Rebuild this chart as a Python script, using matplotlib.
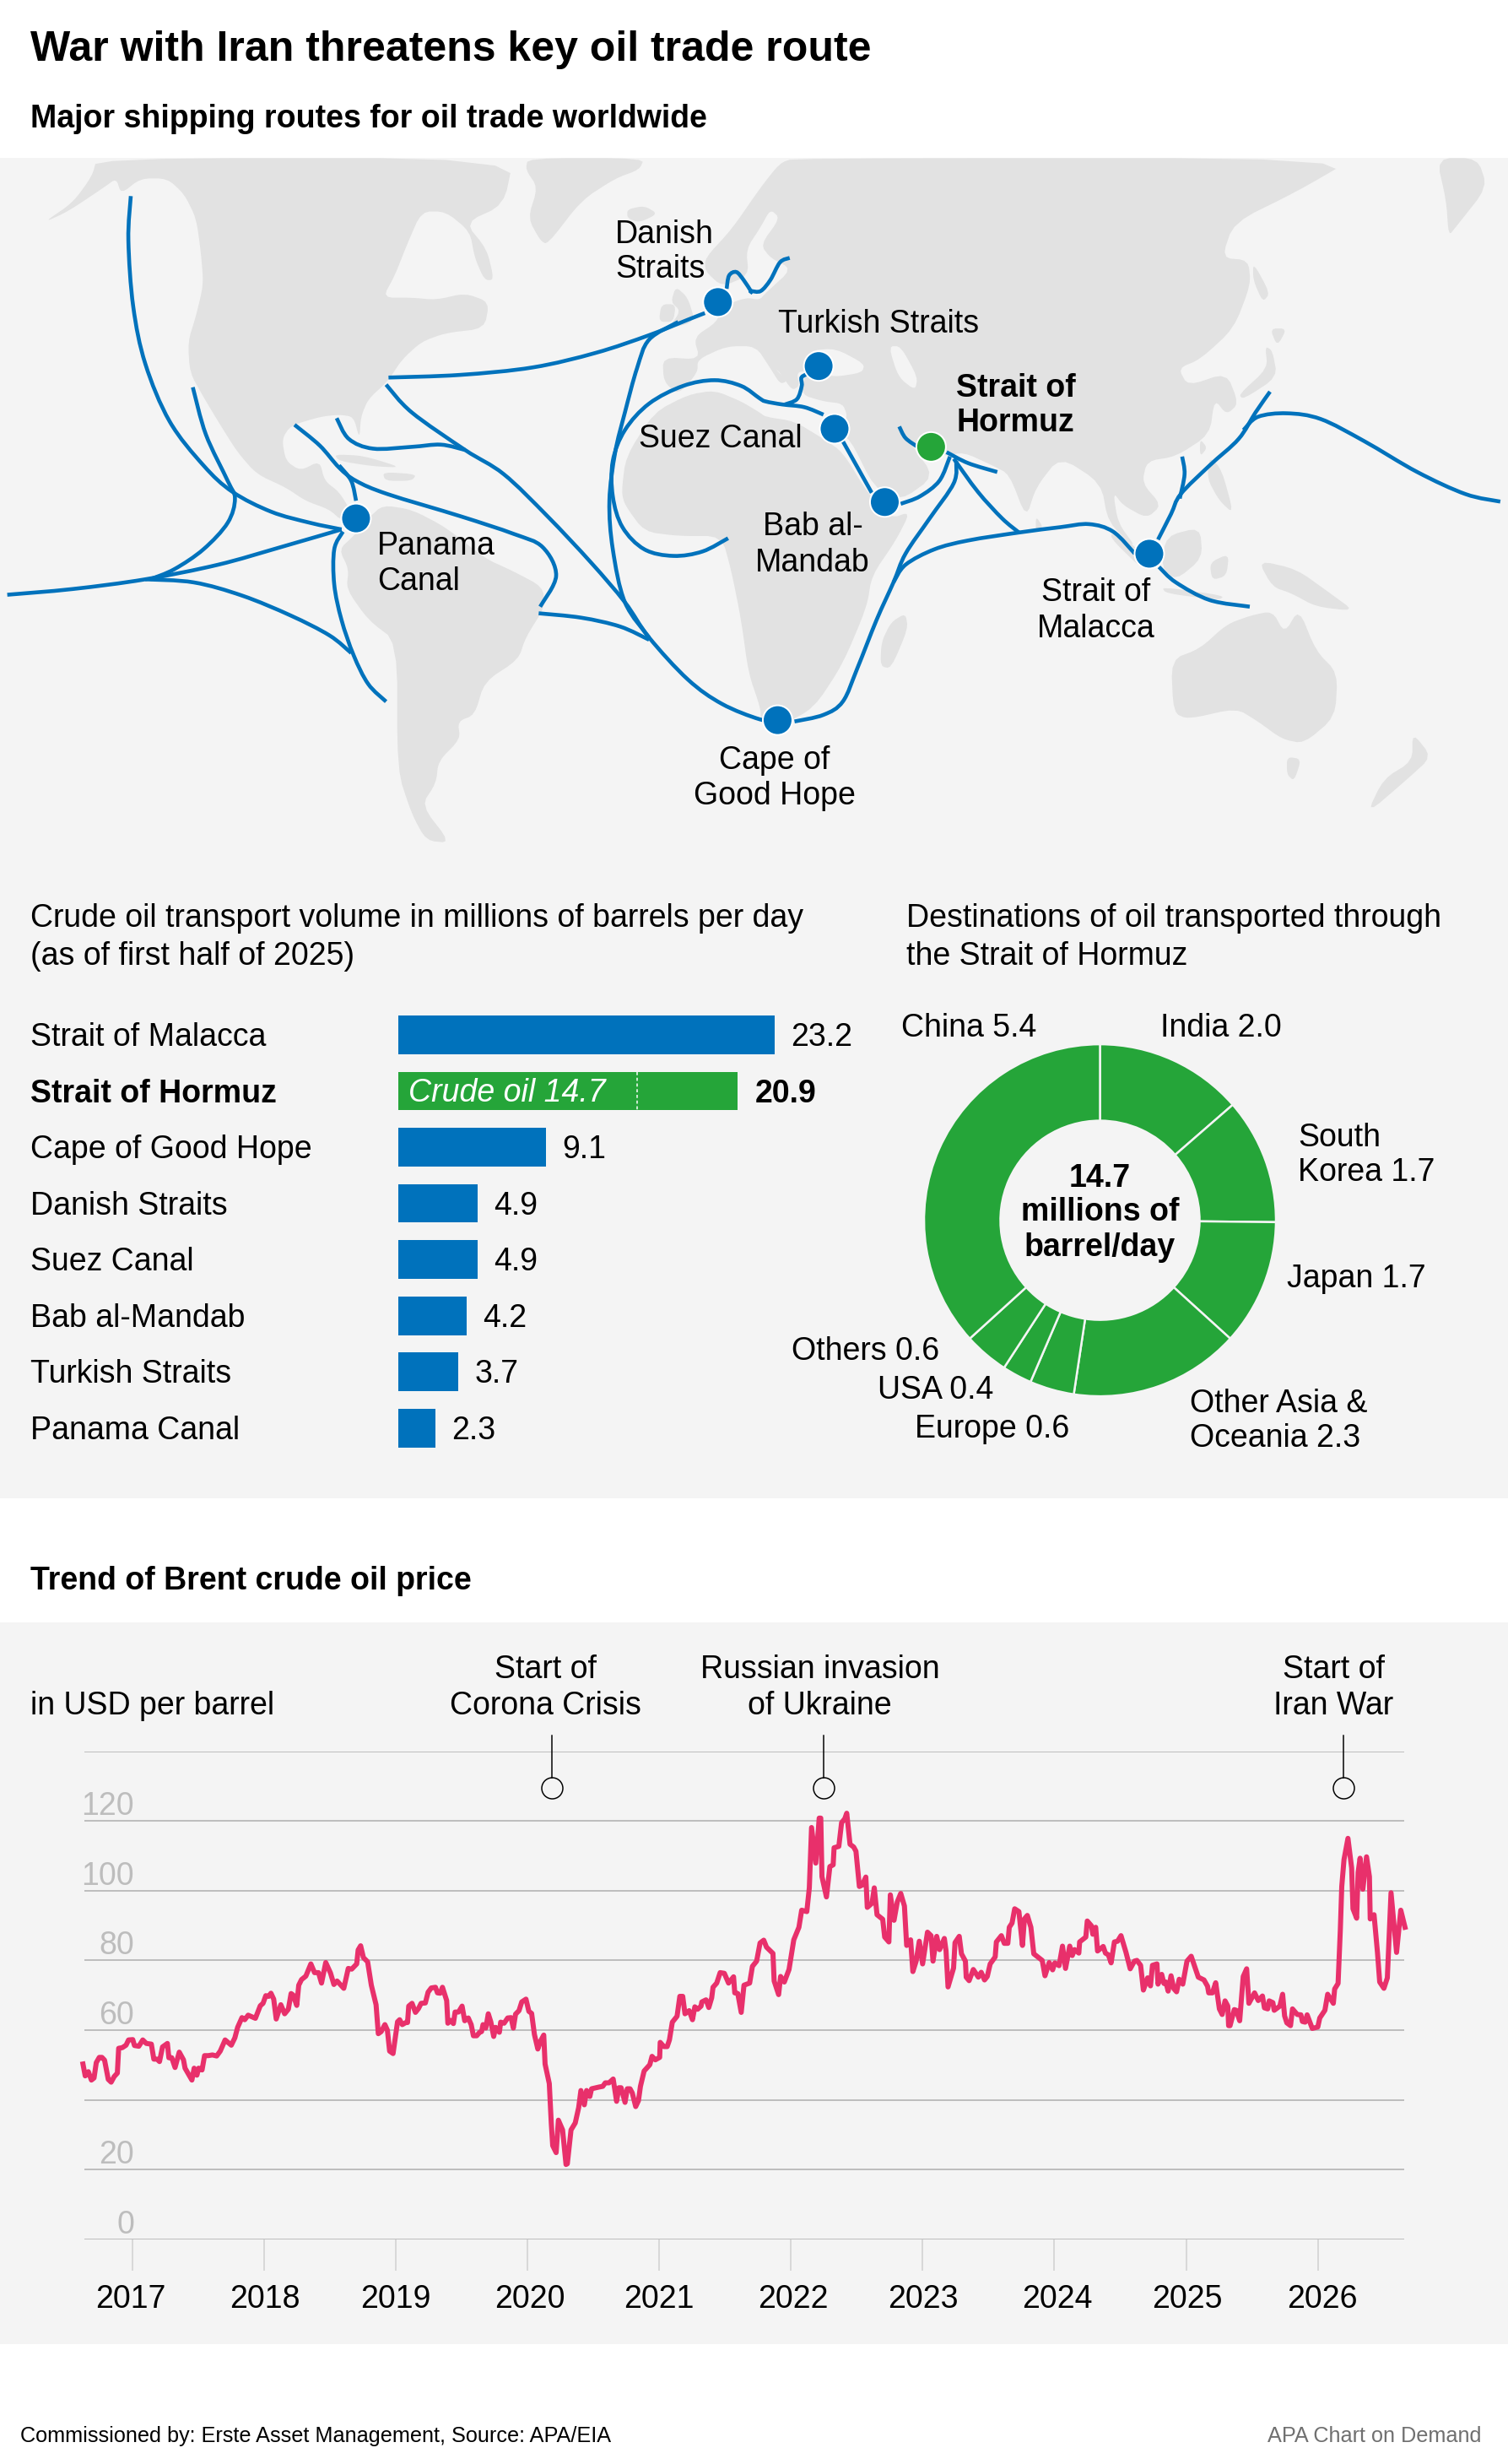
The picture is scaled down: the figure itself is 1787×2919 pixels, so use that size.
import numpy as np
import matplotlib
matplotlib.use('Agg')
import matplotlib.pyplot as plt
from matplotlib.path import Path
from matplotlib.patches import PathPatch, Circle, Rectangle, Polygon
from matplotlib.transforms import ScaledTranslation

plt.rcParams['font.family'] = ['Liberation Sans', 'DejaVu Sans']

# ---------- data ----------
title = 'War with Iran threatens key oil trade route'
subtitle = 'Major shipping routes for oil trade worldwide'
bar_labels = ['Strait of Malacca', 'Strait of Hormuz', 'Cape of Good Hope', 'Danish Straits',
              'Suez Canal', 'Bab al-Mandab', 'Turkish Straits', 'Panama Canal']
bar_values = [23.2, 20.9, 9.1, 4.9, 4.9, 4.2, 3.7, 2.3]
hormuz_crude = 14.7
donut_labels = ['India', 'South Korea', 'Japan', 'Other Asia & Oceania', 'Europe', 'USA', 'Others', 'China']
donut_values = [2.0, 1.7, 1.7, 2.3, 0.6, 0.4, 0.6, 5.4]
grid_values = [0, 20, 40, 60, 80, 100, 120, 140]
labelled_grid = [0, 20, 60, 80, 100, 120]
year_ticks = [2017, 2018, 2019, 2020, 2021, 2022, 2023, 2024, 2025, 2026]
event_years = [2020.188, 2022.251, 2026.197]

brent_years = [
 2016.626,2016.643,2016.667,2016.69,2016.71,2016.727,2016.75,2016.77,2016.79,2016.818,2016.84,2016.863,2016.887,2016.897,2016.925,2016.953,2016.972,
 2017.004,2017.017,2017.05,2017.08,2017.107,2017.145,2017.164,2017.188,2017.207,2017.23,2017.267,2017.278,2017.3,2017.325,2017.357,2017.389,2017.401,2017.453,2017.47,2017.491,2017.504,2017.53,2017.549,2017.577,2017.609,2017.641,2017.668,2017.705,2017.752,2017.779,2017.8,2017.833,2017.854,2017.88,2017.935,2017.972,2017.993,
 2018.014,2018.036,2018.053,2018.074,2018.093,2018.128,2018.157,2018.185,2018.206,2018.221,2018.249,2018.264,2018.285,2018.318,2018.356,2018.384,2018.414,2018.437,2018.469,2018.505,2018.531,2018.555,2018.606,2018.64,2018.666,2018.704,2018.715,2018.734,2018.755,2018.787,2018.815,2018.851,2018.868,2018.89,2018.918,2018.937,2018.954,2018.98,
 2019.014,2019.03,2019.05,2019.082,2019.09,2019.099,2019.124,2019.15,2019.173,2019.193,2019.225,2019.246,2019.27,2019.302,2019.317,2019.338,2019.355,2019.387,2019.396,2019.417,2019.438,2019.451,2019.477,2019.504,2019.524,2019.551,2019.573,2019.59,2019.615,2019.637,2019.652,2019.663,2019.684,2019.703,2019.722,2019.744,2019.759,2019.787,2019.797,2019.823,2019.85,2019.876,2019.893,2019.91,2019.936,2019.957,2019.989,
 2020.011,2020.032,2020.053,2020.079,2020.1,2020.124,2020.134,2020.166,2020.181,2020.192,2020.218,2020.235,2020.267,2020.293,2020.303,2020.331,2020.363,2020.389,2020.406,2020.432,2020.449,2020.474,2020.487,2020.544,2020.572,2020.591,2020.619,2020.651,2020.677,2020.694,2020.711,2020.741,2020.758,2020.779,2020.796,2020.822,2020.843,2020.858,2020.886,2020.929,2020.946,2020.971,
 2021.004,2021.008,2021.036,2021.061,2021.078,2021.1,2021.136,2021.157,2021.179,2021.196,2021.228,2021.253,2021.271,2021.292,2021.318,2021.324,2021.356,2021.377,2021.399,2021.409,2021.437,2021.463,2021.495,2021.527,2021.565,2021.574,2021.597,2021.623,2021.644,2021.687,2021.708,2021.74,2021.766,2021.794,2021.815,2021.864,2021.873,2021.907,2021.922,2021.95,2021.986,
 2022.022,2022.061,2022.082,2022.121,2022.14,2022.157,2022.189,2022.215,2022.227,2022.236,2022.27,2022.296,2022.321,2022.328,2022.364,2022.385,2022.409,2022.424,2022.449,2022.477,2022.494,2022.52,2022.541,2022.569,2022.58,2022.616,2022.633,2022.654,2022.697,2022.712,2022.744,2022.755,2022.783,2022.808,2022.834,2022.862,2022.879,2022.909,2022.926,2022.951,2022.975,
 2023.0,2023.037,2023.064,2023.079,2023.107,2023.129,2023.165,2023.178,2023.193,2023.235,2023.246,2023.278,2023.295,2023.325,2023.331,2023.353,2023.385,2023.423,2023.445,2023.47,2023.491,2023.513,2023.551,2023.56,2023.598,2023.62,2023.647,2023.658,2023.679,2023.699,2023.731,2023.758,2023.773,2023.795,2023.822,2023.844,2023.908,2023.929,2023.961,2023.987,
 2024.004,2024.036,2024.062,2024.085,2024.117,2024.136,2024.154,2024.186,2024.192,2024.239,2024.25,2024.282,2024.292,2024.314,2024.328,2024.371,2024.388,2024.41,2024.431,2024.456,2024.48,2024.506,2024.544,2024.576,2024.608,2024.627,2024.655,2024.676,2024.708,2024.73,2024.745,2024.779,2024.787,2024.815,2024.832,2024.847,2024.864,2024.886,2024.907,2024.928,2024.948,2024.975,
 2025.007,2025.039,2025.093,2025.136,2025.163,2025.172,2025.2,2025.225,2025.253,2025.274,2025.296,2025.317,2025.323,2025.334,2025.366,2025.381,2025.407,2025.434,2025.46,2025.477,2025.52,2025.548,2025.58,2025.595,2025.62,2025.631,2025.659,2025.669,2025.712,2025.733,2025.748,2025.765,2025.793,2025.808,2025.844,2025.872,2025.883,2025.904,2025.919,2025.958,
 2026.0,2026.015,2026.054,2026.075,2026.118,2026.128,2026.154,2026.171,2026.182,2026.199,2026.229,2026.257,2026.267,2026.295,2026.306,2026.321,2026.342,2026.37,2026.392,2026.398,2026.427,2026.453,2026.47,2026.502,2026.528,2026.556,2026.598,2026.63,2026.662]
brent_values = [
 50.3,46.9,48.1,45.7,46.3,50.7,52.2,52.2,51.4,45.9,45.1,46.7,47.7,54.8,55.0,55.7,57.2,
 57.3,55.6,55.4,57.2,56.2,56.0,51.7,51.7,51.0,55.2,56.2,52.1,52.1,49.3,53.7,51.5,49.1,45.7,49.1,47.1,49.1,48.6,52.7,52.7,52.9,52.6,54.0,57.2,55.7,57.8,60.8,63.6,63.0,64.3,63.4,67.0,67.7,
 69.9,69.7,70.6,68.9,63.2,67.3,64.7,66.0,70.5,70.1,67.1,72.9,74.5,75.5,79.0,76.5,76.5,73.5,79.4,76.4,73.1,74.1,72.0,77.7,77.5,79.0,83.0,84.2,80.8,79.6,72.9,67.3,59.0,59.6,61.6,60.0,54.0,53.3,
 62.4,63.0,61.6,62.3,62.2,66.9,67.7,65.1,66.2,67.7,67.8,70.9,72.1,72.3,70.7,70.6,72.3,68.5,62.0,62.8,61.9,65.2,65.2,66.9,62.7,63.5,61.6,58.4,58.4,59.4,59.6,61.6,60.6,64.7,62.4,58.2,60.8,59.4,62.3,62.0,63.5,63.6,60.6,64.6,65.6,68.1,68.9,
 65.4,64.8,58.8,54.6,56.9,58.6,50.3,44.7,33.4,26.9,24.9,34.2,31.4,21.5,21.7,31.4,33.4,37.8,42.7,38.6,42.7,41.0,43.2,43.7,43.9,44.9,44.9,46.0,39.6,43.5,43.5,39.3,43.2,43.2,42.0,38.1,39.8,43.9,48.3,50.1,52.5,51.5,
 52.2,56.5,55.3,55.3,57.2,62.3,64.0,69.7,69.7,64.7,65.6,63.0,66.7,66.0,66.9,68.1,68.7,66.5,69.3,72.3,73.5,76.5,76.3,73.5,75.3,70.7,70.5,65.1,72.9,73.5,78.3,79.8,85.0,85.8,83.8,82.0,74.1,70.2,75.4,73.8,77.4,
 85.9,89.5,94.4,94.0,100.8,118.1,107.9,120.8,120.8,104.0,98.2,106.9,107.4,112.3,112.7,119.5,120.6,122.2,113.3,112.5,111.3,101.2,101.6,103.9,95.2,96.4,100.8,93.1,91.8,86.7,85.3,98.8,91.5,96.8,99.2,95.6,84.3,85.9,76.8,79.8,85.5,
 79.0,88.1,87.1,79.8,86.9,83.1,86.3,82.7,72.4,77.8,85.1,86.9,81.9,79.8,75.2,74.2,77.4,75.2,76.6,74.4,75.4,79.0,81.0,85.3,87.1,84.9,84.9,89.5,90.7,94.8,94.0,84.3,91.9,92.9,89.5,81.9,80.0,75.6,79.4,77.3,
 79.3,78.5,84.1,77.7,84.1,81.4,83.1,82.1,85.3,86.7,91.3,89.9,87.5,89.5,82.7,84.0,82.1,81.6,79.3,85.3,85.5,87.1,82.3,77.6,79.8,80.0,78.6,71.5,75.0,72.7,78.6,79.0,73.2,76.0,73.4,73.8,71.2,75.6,71.9,71.0,74.6,73.2,
 79.8,81.2,75.2,74.4,72.6,70.7,70.7,73.6,66.1,64.5,68.4,66.9,61.3,61.3,65.9,65.7,62.7,75.4,77.6,67.7,70.7,68.5,69.8,66.4,66.1,68.4,67.9,65.7,66.9,70.3,64.1,62.1,61.3,66.1,64.5,64.4,62.5,62.3,64.4,60.5,
 60.9,63.5,65.7,70.3,67.7,71.8,73.4,88.7,101.2,108.9,115.0,106.5,94.8,92.1,105.2,109.3,100.4,109.7,104.0,91.9,93.1,82.3,73.8,72.0,75.0,99.4,82.3,94.4,89.5]

# ---------- layout helpers ----------
W, H = 1787, 2919
BG = '#F4F4F4'; LAND = '#E2E2E2'; BLUE = '#0072BC'; GREEN = '#25A539'; RED = '#E8306B'
GREY = '#BDBDBD'
PT = 0.72
FS = 37.5 * PT

fig = plt.figure(figsize=(W / 100, H / 100), dpi=100, facecolor='white')
main = fig.add_axes([0, 0, 1, 1])
main.set_xlim(0, W); main.set_ylim(H, 0); main.axis('off')

def px_axes(x0, y0, x1, y1, **kw):
    return fig.add_axes([x0 / W, 1 - y1 / H, (x1 - x0) / W, (y1 - y0) / H], **kw)

def txt(x, y, s, size=FS, weight='normal', ha='left', color='black', style='normal'):
    main.text(x, y, s, fontsize=size, fontweight=weight, ha=ha, va='baseline', color=color, fontstyle=style, zorder=20)

main.add_patch(Rectangle((0, 187), W, 1775 - 187, fc=BG, ec='none', zorder=0))
main.add_patch(Rectangle((0, 1922), W, 2777 - 1922, fc=BG, ec='none', zorder=0))

txt(36, 72, title, size=50 * PT, weight='bold')
txt(36, 151, subtitle, size=37.5 * PT, weight='bold')

# ---------- map geometry ----------
def Z1(p):
    return [(x / 1.742, 180 + y / 1.912) for x, y in p]
def Z2(p):
    return [(890 + x / 1.748, 180 + y / 1.912) for x, y in p]

def chaikin(poly, n=2):
    p = np.array(poly, float)
    for _ in range(n):
        q = np.roll(p, -1, axis=0)
        p = np.column_stack([0.8 * p + 0.2 * q, 0.2 * p + 0.8 * q]).reshape(-1, 2)
    return p

land = [
 # North America
 Z1([(200,14),(190,55),(150,115),(90,160),(140,135),(215,80),(240,60),(250,95),(290,60),(345,60),(380,95),(405,150),(415,230),(420,300),(405,370),(388,430),(392,500),(420,555),(450,610),(490,680),(530,730),(590,760),(630,790),(680,810),(705,835),(725,815),(700,770),(670,745),(660,700),(620,722),(590,700),(582,650),(600,620),(660,600),(700,595),(730,600),(742,650),(745,600),(760,560),(800,520),(830,470),(870,430),(920,410),(1000,400),(1010,340),(960,320),(900,335),(850,330),(790,330),(815,280),(840,210),(870,135),(920,135),(970,180),(980,240),(1000,290),(1020,290),(1005,220),(960,160),(1040,120),(1060,14)]),
 # Greenland
 Z1([(1090,14),(1330,14),(1320,40),(1270,60),(1200,110),(1130,210),(1115,200),(1090,150),(1110,80),(1085,40)]),
 # Iceland, UK, Ireland, Cuba, Hispaniola
 Z1([(1295,130),(1330,122),(1358,140),(1320,160),(1295,150)]),
 Z1([(1395,305),(1420,330),(1435,385),(1380,400),(1405,360),(1385,340)]),
 Z1([(1365,345),(1395,345),(1390,385),(1360,385)]),
 Z1([(690,685),(750,688),(830,715),(770,712),(700,700)]),
 Z1([(790,725),(860,730),(850,745),(795,745)]),
 # South America
 Z1([(790,800),(850,810),(920,850),(1000,920),(1060,950),(1120,985),(1125,1030),(1085,1100),(1070,1150),(1000,1200),(980,1275),(945,1290),(950,1330),(905,1380),(900,1430),(870,1480),(930,1565),(880,1560),(850,1500),(820,1400),(820,1110),(760,1060),(715,990),(720,945),(700,900),(730,870),(760,830)]),
 # Africa
 Z1([(1283,770),(1292,690),(1350,590),(1420,550),(1475,540),(1530,565),(1568,590)])
 + Z2([(30,600),(90,610),(150,650),(190,680),(240,770),(290,830),(330,815),(300,880),(250,960),(240,1030),(190,1160),(130,1260),(60,1300),(20,1290)])
 + Z1([(1570,1260),(1545,1180),(1530,1060),(1510,950),(1490,870),(1400,870),(1330,860),(1290,800)]),
 Z2([(320,1045),(325,1080),(290,1170),(268,1165),(270,1110),(290,1065)]),
 # Eurasia
 Z1([(1370,520),(1368,465),(1445,470),(1432,420),(1480,385),(1490,350),(1540,330),(1568,335)])
 + Z2([(30,320),(85,265),(40,240),(20,210),(60,150),(40,130),(20,170),(-10,220),(-5,280),(-60,305),(-95,270),(-95,240),(-40,175),(20,80),(60,25),(90,14),(1250,14),(1130,90),(1000,160),(975,240),(1030,245),(1035,300),(1000,400),(930,470),(885,490),(905,530),(985,500),(1010,570),(985,595),(960,560),(950,640),(880,690),(820,700),(810,750),(850,800),(820,830),(770,800),(750,770),(760,840),(800,900),(740,840),(725,750),(640,690),(590,760),(570,830),(535,730),(500,710),(440,680),(400,690),(345,660),(330,660),(380,735),(310,790),(255,760),(205,650),(180,640),(185,625),(200,600),(190,570),(150,565),(105,550),(110,510),(115,495),(95,500),(100,530),(85,540),(60,500),(50,490),(75,520),(60,525),(40,490),(10,440)])
 + Z1([(1500,440),(1440,470),(1440,500),(1400,550)]),
 # Chukotka
 Z2([(1420,14),(1505,14),(1525,80),(1460,170),(1445,190),(1440,110)]),
 # Asia Pacific islands
 Z2([(1040,250),(1075,320),(1060,340),(1040,290)]),
 Z2([(1080,450),(1090,510),(1020,560),(1010,550),(1070,490),(1065,440)]),
 Z2([(1075,400),(1110,400),(1090,440)]),
 Z2([(930,650),(945,670),(930,690)]),
 Z2([(950,690),(975,720),(1000,820),(970,790),(945,740)]),
 Z2([(590,825),(605,850),(590,860)]),
 Z2([(760,860),(830,930),(815,950),(740,870)]),
 Z2([(860,870),(930,850),(935,920),(880,970),(850,940)]),
 Z2([(950,930),(990,910),(985,960),(955,970)]),
 Z2([(850,985),(980,1005),(970,1015),(860,1000)]),
 Z2([(1050,925),(1130,945),(1200,1000),(1250,1040),(1170,1030),(1120,1000),(1080,985)]),
 # Australia, Tasmania, New Zealand
 Z2([(870,1150),(930,1125),(985,1070),(1035,1050),(1080,1040),(1105,1090),(1135,1035),(1170,1130),(1215,1180),(1210,1280),(1145,1340),(1100,1330),(1050,1290),(1005,1260),(905,1285),(875,1270)]),
 Z2([(1110,1370),(1140,1375),(1125,1425),(1110,1410)]),
 Z2([(1370,1315),(1410,1370),(1360,1420),(1275,1500),(1310,1420),(1370,1380)]),
]
seas = [
 Z1([(875,130),(855,200),(825,265),(800,320),(840,290),(900,270),(960,280),(990,300),(970,200),(940,150)]),
 Z2([(120,450),(175,445),(235,480),(230,500),(170,510),(120,495)]),
 Z2([(285,440),(310,440),(345,510),(340,540),(305,510)]),
]
routes = [
 Z1([(270,100),(265,200),(275,350),(300,480),(350,610),(420,710),(480,770),(560,815),(640,840),(705,855)]),
 Z1([(398,533),(425,640),(470,745),(485,785),(470,840),(420,900),(360,945),(310,968)]),
 Z1([(15,1003),(150,990),(300,968),(450,935),(580,895),(705,855)]),
 Z1([(300,968),(400,975),(500,1005),(600,1050),(680,1095),(725,1135)]),
 Z1([(708,860),(690,900),(690,980),(705,1060),(730,1140),(760,1205),(797,1245)]),
 Z1([(608,618),(660,665),(700,715),(735,745),(800,775),(950,825),(1060,865),(1120,895),(1148,960),(1115,1030)]),
 Z1([(700,710),(725,745),(735,790)]),
 Z1([(695,603),(720,650),(770,672),(850,668),(910,663),(960,675)]),
 Z1([(797,527),(850,590),(960,675),(1040,730),(1130,825),(1220,930),(1290,1020),(1340,1100),(1420,1195),(1490,1250),(1568,1285),(1610,1290)]),
 Z1([(802,511),(950,505),(1100,488),(1230,455),(1340,415),(1420,380),(1455,365)]),
 Z1([(1400,385),(1340,425),(1315,490),(1290,590),(1270,680),(1258,790),(1265,900),(1290,1020),(1340,1100)]),
 Z1([(1503,875),(1450,905),(1390,915),(1330,900),(1285,850),(1265,780),(1265,700),(1290,630),(1340,570),(1410,530),(1475,517),(1530,530),(1568,558)])
 + Z2([(30,565),(65,572),(110,578),(150,595)]),
 Z1([(1112,1045),(1200,1055),(1280,1075),(1340,1105)]),
 Z1([(1500,310),(1505,280),(1520,272),(1535,290),(1550,315)]) + Z2([(0,315),(20,315),(40,290),(60,250),(80,240)]),
 Z2([(70,572),(95,560),(105,530),(105,510),(125,500)]),
 Z2([(190,655),(250,772)]),
 Z2([(310,797),(350,780),(390,745),(412,690)]),
 Z2([(307,622),(320,648),(345,668)]),
 Z2([(405,680),(450,705),(510,725)]),
 Z2([(90,1290),(150,1275),(190,1245),(220,1170),(260,1060),(295,975),(320,910),(370,830),(420,750),(425,700)]),
 Z2([(295,975),(320,935),(380,900),(450,880),(555,862),(640,850),(700,843),(750,860),(795,910)]),
 Z2([(555,862),(520,830),(470,770),(420,695)]),
 Z2([(845,940),(880,975),(950,1015),(1033,1030)]),
 Z2([(843,878),(870,820),(890,775),(950,710),(1010,650),(1045,590),(1075,543)]),
 Z2([(1020,630),(1050,600),(1110,592),(1180,605),(1270,655),(1380,725),(1480,775),(1552,792)]),
 Z2([(893,690),(898,730),(888,785)]),
]
dots = Z1([(1482,340),(735,830)]) + Z2([(140,485),(173,627),(277,793),(825,910),(55,1287)])
green_dot = Z2([(373,668)])[0]

def smooth(pts):
    p = np.array(pts, float)
    q = np.vstack([p[0], p, p[-1]])
    verts = [tuple(p[0])]; codes = [Path.MOVETO]
    for i in range(1, len(q) - 2):
        c1 = q[i] + (q[i + 1] - q[i - 1]) / 6
        c2 = q[i + 1] - (q[i + 2] - q[i]) / 6
        verts += [tuple(c1), tuple(c2), tuple(q[i + 1])]
        codes += [Path.CURVE4] * 3
    return Path(verts, codes)

clip = Rectangle((0, 187), W, 1000 - 187, transform=main.transData)
for poly in land:
    patch = Polygon(chaikin(poly), closed=True, fc=LAND, ec='none', zorder=1)
    main.add_patch(patch); patch.set_clip_path(clip)
for poly in seas:
    main.add_patch(Polygon(chaikin(poly), closed=True, fc=BG, ec='none', zorder=2))
for r in routes:
    main.add_patch(PathPatch(smooth(r), fc='none', ec=BLUE, lw=4.6 * PT, capstyle='butt', zorder=3))
for d in dots:
    main.add_patch(Circle(d, 17.5, fc=BLUE, ec='white', lw=2 * PT, zorder=4))
main.add_patch(Circle(green_dot, 17.5, fc=GREEN, ec='white', lw=2 * PT, zorder=4))

for x, y, s, ha, w in [
    (729, 288, 'Danish', 'left', 'normal'), (729, 329, 'Straits', 'left', 'normal'),
    (921.5, 394, 'Turkish Straits', 'left', 'normal'),
    (1133, 470, 'Strait of', 'left', 'bold'), (1133, 511, 'Hormuz', 'left', 'bold'),
    (757, 530, 'Suez Canal', 'left', 'normal'),
    (447, 657, 'Panama', 'left', 'normal'), (447, 699, 'Canal', 'left', 'normal'),
    (963, 634, 'Bab al-', 'center', 'normal'), (963, 677, 'Mandab', 'center', 'normal'),
    (1299, 712, 'Strait of', 'center', 'normal'), (1299, 755, 'Malacca', 'center', 'normal'),
    (918, 911, 'Cape of', 'center', 'normal'), (918, 953, 'Good Hope', 'center', 'normal')]:
    txt(x, y, s, ha=ha, weight=w)

# ---------- section headings ----------
txt(36, 1098, 'Crude oil transport volume in millions of barrels per day')
txt(36, 1143, '(as of first half of 2025)')
txt(1074, 1098, 'Destinations of oil transported through')
txt(1074, 1143, 'the Strait of Hormuz')

# ---------- bars ----------
bar_ax = px_axes(472, 1226 - 33.25, 918, 1691.8 + 33.25)
bar_ax.set_xlim(0, max(bar_values)); bar_ax.set_ylim(len(bar_values) - 0.5, -0.5)
bar_ax.axis('off'); bar_ax.patch.set_alpha(0)
pos = np.arange(len(bar_values))
colors = [GREEN if 'Hormuz' in l else BLUE for l in bar_labels]
bar_ax.barh(pos, bar_values, height=0.687, color=colors)
for i, (l, v) in enumerate(zip(bar_labels, bar_values)):
    w = 'bold' if 'Hormuz' in l else 'normal'
    off = 21 if w == 'bold' else 19
    bar_ax.annotate(f'{v:.1f}', (v, i), xytext=(off * PT, -13 * PT), textcoords='offset points',
                    fontsize=FS, fontweight=w, va='baseline', annotation_clip=False)
    txt(36, 1226 + 66.54 * i + 13, l, weight=w)
i_h = bar_labels.index('Strait of Hormuz')
bar_ax.plot([hormuz_crude] * 2, [i_h - 0.3435, i_h + 0.3435], color='white', lw=1.5 * PT, ls=(0, (2.5, 2)))
bar_ax.annotate(f'Crude oil {hormuz_crude}', (0, i_h), xytext=(12 * PT, -12 * PT), textcoords='offset points',
                fontsize=FS, style='italic', color='white', va='baseline')

# ---------- donut ----------
cx, cy, R, r = 1303.5, 1445.6, 208.5, 118
don = px_axes(cx - R - 2, cy - R - 2, cx + R + 2, cy + R + 2)
don.pie(donut_values, startangle=90, counterclock=False, radius=1, colors=[GREEN] * len(donut_values),
        wedgeprops=dict(width=(R - r) / R, edgecolor=BG, linewidth=2.5 * PT))
lim = (R + 2) / R
don.set_xlim(-lim, lim); don.set_ylim(-lim, lim); don.patch.set_alpha(0)

for x, y, s, ha in [
    (1068, 1228, 'China 5.4', 'left'), (1375, 1228, 'India 2.0', 'left'),
    (1538, 1358, 'South', 'left'), (1538, 1399, 'Korea 1.7', 'left'),
    (1525, 1525, 'Japan 1.7', 'left'), (1409.6, 1673, 'Other Asia &', 'left'),
    (1409.6, 1714, 'Oceania 2.3', 'left'), (1084, 1703, 'Europe 0.6', 'left'),
    (1040.4, 1657, 'USA 0.4', 'left'), (1113, 1611, 'Others 0.6', 'right')]:
    txt(x, y, s, ha=ha)
for y, s in [(1405.7, '14.7'), (1446, 'millions of'), (1488, 'barrel/day')]:
    txt(cx, y, s, ha='center', weight='bold')

# ---------- Brent line ----------
txt(36, 1883, 'Trend of Brent crude oil price', weight='bold')
txt(36, 2031, 'in USD per barrel')
for x, s1, s2 in [(646, 'Start of', 'Corona Crisis'), (971.7, 'Russian invasion', 'of Ukraine'), (1580, 'Start of', 'Iran War')]:
    txt(x, 1988, s1, ha='center'); txt(x, 2031, s2, ha='center')

x0 = 2017 + (100 - 156.7) / 156.1
x1 = 2017 + (1664 - 156.7) / 156.1
ax = px_axes(100, 2074.5, 1664, 2653)
ax.set_xlim(x0, x1); ax.set_ylim(0, 140); ax.patch.set_alpha(0)
for s in ax.spines.values():
    s.set_visible(False)
ax.set_yticks(grid_values); ax.set_yticklabels([])
ax.tick_params(axis='y', length=0)
ax.grid(axis='y', color='#BEBEBE', lw=2 * PT); ax.set_axisbelow(True)
ax.set_xticks(year_ticks); ax.set_xticklabels([str(y) for y in year_ticks], fontsize=FS)
ax.tick_params(axis='x', length=37 * PT, width=1.5 * PT, color='#CFCFCF', pad=16 * PT)
year_label_shift_px = [-1.7, 1.2, -0.5, 2.4, -0.4, 3.1, 0.7, 3.6, 1.5, 5.0]
for lab, dx in zip(ax.get_xticklabels(), year_label_shift_px):
    lab.set_transform(lab.get_transform() + ScaledTranslation(dx / 100, 0, fig.dpi_scale_trans))
for v in labelled_grid:
    ax.annotate(str(v), (0, v), xycoords=('axes fraction', 'data'), xytext=(59 * PT, 7 * PT),
                textcoords='offset points', ha='right', va='baseline', fontsize=FS, color=GREY, annotation_clip=False)
ax.plot(brent_years, brent_values, color=RED, lw=6 * PT, solid_joinstyle='round', clip_on=False, zorder=5)
stem_top, marker_v = 144.5, 129.4
for ex in event_years:
    ax.plot([ex, ex], [marker_v + 3, stem_top], color='black', lw=1.5 * PT, clip_on=False, zorder=6)
    ax.plot([ex], [marker_v], marker='o', ms=25 * PT, mfc='none', mec='black', mew=1.5 * PT, clip_on=False, zorder=6)

# ---------- footer ----------
txt(24, 2893, 'Commissioned by: Erste Asset Management, Source: APA/EIA', size=25.3 * PT)
txt(1756, 2893, 'APA Chart on Demand', size=25.3 * PT, ha='right', color='#707070')

fig.savefig('out.png', dpi=100)
